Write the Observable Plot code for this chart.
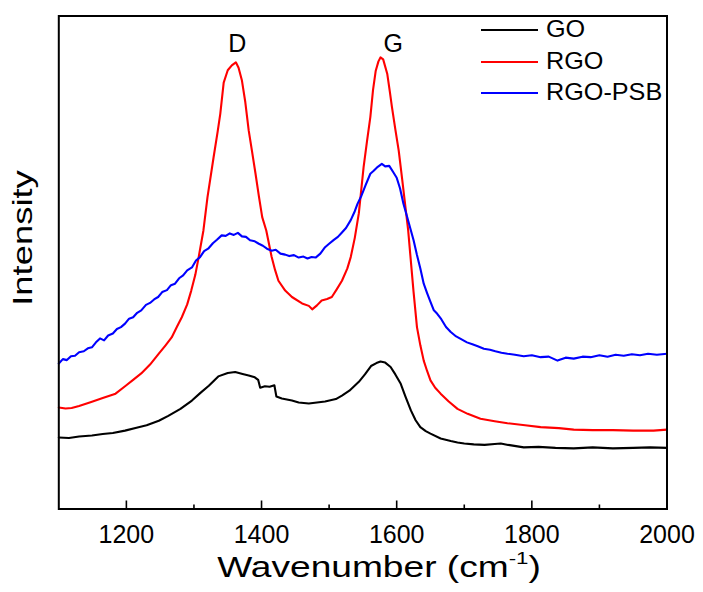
<!DOCTYPE html>
<html>
<head>
<meta charset="utf-8">
<script src="https://cdn.jsdelivr.net/npm/d3@7"></script>
<script src="https://cdn.jsdelivr.net/npm/@observablehq/plot@0.6"></script>
<style>
  body { margin: 0; background: #fff; }
  #wrap { position: relative; width: 703px; height: 592px; font-family: "Liberation Sans", Arial, sans-serif; color: #000; }
  .ttl { position: absolute; white-space: nowrap; line-height: 1; }
  #legend { position: absolute; left: 481px; top: 14px; }
  .lrow { position: relative; height: 31.5px; }
  .lline { position: absolute; left: 0; top: 15px; width: 57px; height: 0; border-top: 2.5px solid; }
  .ltext { position: absolute; left: 65px; top: 3px; font-size: 24px; line-height: 1; transform: scaleX(1.05); transform-origin: left center; white-space: nowrap; }
</style>
</head>
<body>
<div id="wrap"></div>
<script>
// ---- data ----
const seriesNames = ["GO", "RGO", "RGO-PSB"];
const seriesColors = ["#000000", "#ff0000", "#0000ff"];

const goWn = [1100,1115,1130,1149,1165,1180,1198,1215,1230,1248,1262,1280,1297,1310,1322,1336,1350,1361,1372,1381,1390,1395,1398,1405,1412,1419,1422,1430,1445,1455,1470,1494,1510,1519,1530,1544,1553,1562,1570,1576,1583,1591,1598,1606,1613,1621,1628,1635,1643,1650,1665,1680,1690,1700,1714,1730,1745,1754,1765,1788,1810,1835,1862,1890,1920,1950,1975,2000];
const goI  = [14.5,14.4,14.7,14.9,15.2,15.4,15.9,16.5,17.0,17.9,18.9,20.3,22.0,23.6,25.0,26.9,27.6,27.8,27.4,27.1,26.7,26.2,24.6,24.9,24.8,25.1,22.8,22.4,22.0,21.6,21.4,21.8,22.3,23.0,24.0,25.8,27.3,29.0,29.6,29.9,29.7,28.8,27.3,25.4,22.8,20.0,18.0,16.6,15.8,15.3,14.3,13.8,13.5,13.3,13.1,13.0,13.2,13.3,13.0,12.5,12.6,12.4,12.3,12.5,12.3,12.4,12.5,12.4];

const rgoWn = [1100,1110,1119,1130,1148,1165,1184,1199,1210,1222,1235,1248,1258,1267,1275,1282,1290,1296,1302,1307,1314,1320,1329,1335,1339,1344,1350,1356,1362,1366,1371,1376,1381,1386,1391,1396,1401,1407,1415,1420,1425,1435,1445,1460,1470,1475,1482,1489,1497,1504,1511,1519,1527,1532,1538,1544,1551,1556,1561,1565,1569,1573,1576,1580,1586,1590,1593,1598,1603,1608,1613,1617,1620,1625,1630,1635,1640,1645,1650,1657,1665,1677,1690,1705,1724,1745,1764,1790,1813,1840,1862,1890,1920,1950,1980,2000];
const rgoI  = [20.6,20.4,20.5,20.9,21.7,22.5,23.4,25.0,26.2,27.5,29.3,31.5,33.2,34.8,37.0,38.9,41.5,44.3,47.5,51.1,56.5,63.2,71.3,76.5,80.2,86.5,89.0,90.0,90.6,89.5,86.9,82.5,76.8,72.5,68.1,63.5,59.2,56.5,51.1,48.5,46.3,44.3,43.0,41.7,41.2,40.5,41.3,42.3,42.6,43.0,44.5,46.3,48.8,51.1,55.0,60.0,69.3,74.5,79.5,85.0,88.9,90.8,91.6,91.2,88.3,84.5,81.5,77.0,72.7,67.0,61.2,56.5,51.8,44.0,36.9,33.2,30.1,28.0,26.1,24.6,23.4,21.8,20.3,19.3,18.3,17.8,17.4,17.0,16.6,16.4,16.1,16.0,16.0,15.9,15.9,16.1];

const psbWn = [1100,1106,1112,1118,1124,1130,1137,1143,1149,1155,1161,1167,1173,1180,1186,1192,1198,1204,1210,1216,1222,1229,1235,1241,1247,1253,1260,1266,1272,1278,1284,1290,1297,1303,1309,1315,1321,1328,1334,1341,1347,1353,1359,1365,1371,1377,1383,1390,1396,1402,1408,1415,1421,1428,1435,1441,1448,1455,1462,1468,1474,1480,1487,1494,1500,1507,1513,1519,1525,1532,1538,1542,1548,1554,1561,1566,1572,1578,1583,1589,1595,1600,1605,1610,1615,1620,1625,1630,1635,1640,1645,1650,1655,1660,1666,1673,1680,1688,1696,1704,1712,1720,1729,1738,1746,1755,1764,1775,1788,1800,1813,1825,1838,1850,1862,1875,1887,1900,1912,1924,1936,1948,1960,1972,1985,2000];
const psbI  = [29.5,30.4,30.2,31.0,31.1,31.8,32.0,32.6,32.8,33.8,34.6,34.2,35.2,35.6,36.5,36.9,37.6,38.6,38.9,39.8,40.3,41.4,41.8,42.5,43.0,44.0,44.4,45.4,45.7,46.8,47.4,48.4,49.0,50.4,51.1,52.3,52.8,53.9,54.6,55.5,55.4,55.9,55.6,56.0,55.3,55.2,54.5,54.3,53.8,53.4,52.8,52.4,52.6,51.8,51.6,51.3,51.5,51.0,51.2,50.8,51.1,51.0,51.8,53.1,53.8,54.6,55.2,56.1,57.0,58.6,60.4,61.9,63.6,65.7,68.0,68.6,69.4,70.0,69.5,69.6,68.3,67.2,65.0,61.9,59.5,57.0,54.5,51.5,48.8,45.7,43.8,42.0,40.3,39.6,38.5,36.9,35.9,35.0,34.4,33.8,33.4,33.0,32.5,32.3,32.0,31.7,31.5,31.3,31.0,31.2,30.8,30.9,30.1,30.7,30.5,30.9,30.8,31.2,30.9,31.3,31.1,31.4,31.2,31.5,31.3,31.5];

const xMajorTicks = [1200, 1400, 1600, 1800, 2000];
const xMinorTicks = [1300, 1500, 1700, 1900];
const peakLabels = ["D", "G"];
const peakLabelWn = [1364, 1595];

// ---- build tables ----
const seriesWn = [goWn, rgoWn, psbWn];
const seriesI = [goI, rgoI, psbI];
const rows = [];
seriesNames.forEach((name, s) => {
  seriesWn[s].forEach((wn, i) => rows.push({series: name, wn, I: seriesI[s][i]}));
});
const peaks = peakLabels.map((label, i) => ({label, wn: peakLabelWn[i]}));

// ---- layout ----
const W = 703, H = 592;
const mL = 58.3, mR = 36.5, mT = 15.5, mB = 83.5;
const innerH = H - mT - mB;
const font = '"Liberation Sans", Arial, sans-serif';

const chart = Plot.plot({
  width: W, height: H,
  marginLeft: mL, marginRight: mR, marginTop: mT, marginBottom: mB,
  style: {fontFamily: font, fontSize: "25px", color: "#000", background: "transparent", overflow: "visible"},
  x: {domain: [1100, 2000]},
  y: {domain: [0, 100], axis: null},
  color: {domain: seriesNames, range: seriesColors},
  marks: [
    Plot.axisX(xMajorTicks, {tickSize: 0, tickPadding: 16.5, fontSize: 25, tickFormat: d => String(d), label: null}),
    Plot.ruleX(xMajorTicks, {insetTop: innerH - 8, stroke: "#000", strokeWidth: 1.6}),
    Plot.ruleX(xMinorTicks, {insetTop: innerH - 4, stroke: "#000", strokeWidth: 1.6}),
    Plot.line(rows, {x: "wn", y: "I", z: "series", stroke: "series", strokeWidth: 2.1}),
    Plot.text(peaks, {x: "wn", text: "label", frameAnchor: "top", lineAnchor: "middle", dy: 27.5, fontSize: 25, fill: "#000"}),
    Plot.frame({stroke: "#000", strokeWidth: 2})
  ]
});

const wrap = document.getElementById("wrap");
wrap.appendChild(chart);

// axis titles
const xt = document.createElement("div");
xt.className = "ttl";
xt.style.fontSize = "29px";
xt.style.left = "379px";
xt.style.top = "553px";
xt.style.transform = "translateX(-50%) scaleX(1.28)";
xt.innerHTML = 'Wavenumber (cm<span style="font-size:0.6em;position:relative;top:-0.75em">-1</span>)';
wrap.appendChild(xt);

const yt = document.createElement("div");
yt.className = "ttl";
yt.style.fontSize = "28px";
yt.style.left = "23.3px";
yt.style.top = "238px";
yt.style.transform = "translate(-50%,-50%) rotate(-90deg) scaleX(1.3)";
yt.textContent = "Intensity";
wrap.appendChild(yt);

// legend
const legend = document.createElement("div");
legend.id = "legend";
seriesNames.forEach((name, i) => {
  const row = document.createElement("div");
  row.className = "lrow";
  const ln = document.createElement("div");
  ln.className = "lline";
  ln.style.borderTopColor = seriesColors[i];
  const tx = document.createElement("span");
  tx.className = "ltext";
  tx.textContent = name;
  row.appendChild(ln);
  row.appendChild(tx);
  legend.appendChild(row);
});
wrap.appendChild(legend);
</script>
</body>
</html>
